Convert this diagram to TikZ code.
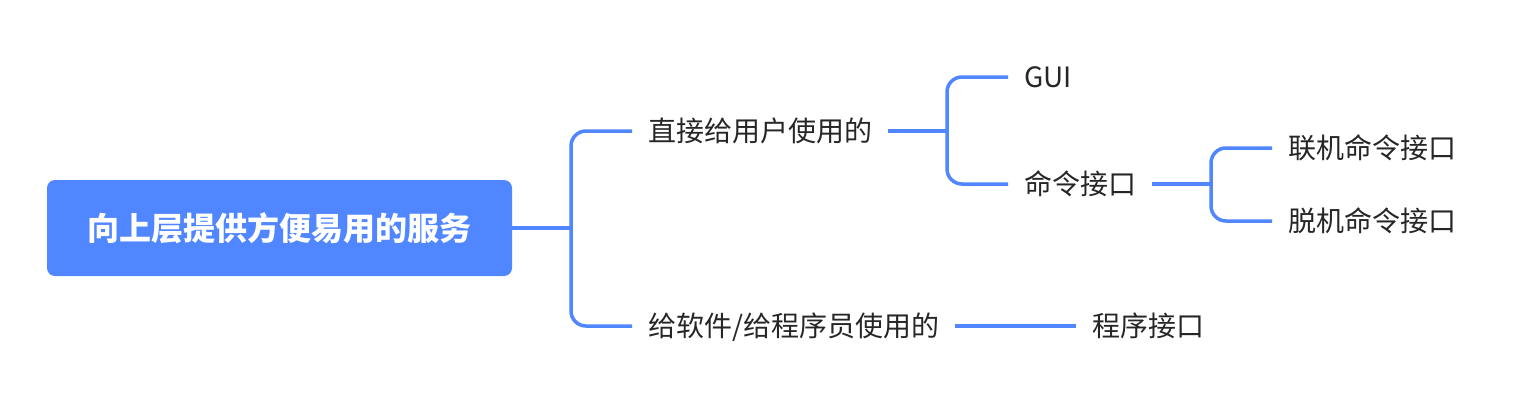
\documentclass[tikz,border=0pt]{standalone}
\usepackage{fontspec}
\setmainfont{Noto Sans CJK SC}
\definecolor{mapblue}{RGB}{80,134,255}
\definecolor{mapink}{RGB}{38,38,38}

\begin{document}
\begin{tikzpicture}[x=1pt, y=-1pt,
	root/.style={fill=mapblue, rounded corners=8pt, text=white,
		font=\fontsize{32}{38}\selectfont\bfseries,
		minimum width=465pt, minimum height=96pt},
	topic/.style={anchor=west, inner xsep=16pt, inner ysep=0pt, text=mapink,
		font=\fontsize{28}{34}\selectfont, text height=24pt, text depth=4pt},
	link/.style={draw=mapblue, line width=3.5pt, rounded corners=15pt}]
	\useasboundingbox (0,0) rectangle (1520,404);
	
	\node[root] (service) at (279.5,228) {向上层提供方便易用的服务};
	
	\node[topic] (direct) at (632,131) {直接给用户使用的};
	\node[topic] (soft) at (632,326) {给软件/给程序员使用的};
	\node[topic] (gui) at (1008,77) {GUI};
	\node[topic] (cmd) at (1008,184) {命令接口};
	\node[topic] (online) at (1272,148) {联机命令接口};
	\node[topic] (offline) at (1272,221) {脱机命令接口};
	\node[topic] (api) at (1076,326) {程序接口};
	
	% branch points
	\coordinate (j1) at (571,228);
	\coordinate (j2) at (947,131);
	\coordinate (j3) at (1211,184);
	
	\draw[link] (service.east) -- (j1);
	\draw[link] (direct.west) -| (j1) |- (soft.west);
	\draw[link] (direct.east) -- (j2);
	\draw[link] (gui.west) -| (j2) |- (cmd.west);
	\draw[link] (cmd.east) -- (j3);
	\draw[link] (online.west) -| (j3) |- (offline.west);
	\draw[link] (soft.east) -- (api.west);
	
\end{tikzpicture}
\end{document}
